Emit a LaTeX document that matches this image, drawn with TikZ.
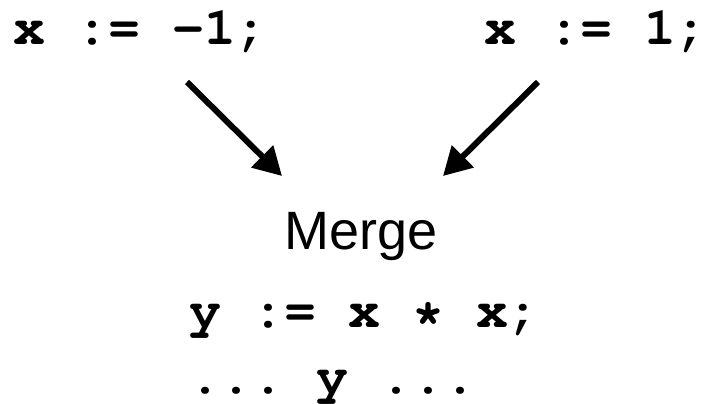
\documentclass[tikz,border=0pt]{standalone}
\usepackage{fontspec}
\usetikzlibrary{arrows.meta}
\newfontfamily\mergefont{Liberation Sans}
\newcommand\codefont{\frenchspacing\fontencoding{T1}\fontfamily{pcr}\fontseries{b}\fontshape{n}\fontsize{53.3}{60}\selectfont}
\tikzset{
  code/.style={inner sep=0pt, outer sep=0pt, anchor=base west, font=\codefont},
  label/.style={inner sep=0pt, outer sep=0pt, anchor=base, font=\mergefont\fontsize{54}{60}\selectfont},
  arr/.style={line width=6pt, -{Triangle[length=28pt,width=30pt]}}
}
\begin{document}
\begin{tikzpicture}[x=1pt,y=-1pt]
\useasboundingbox (0,0) rectangle (707,404);
\node[code] (left) at (13,44.5) {x := -1;};
\node[code] (right) at (484.5,44.5) {x := 1;};
\node[label] (merge) at (361.5,249) {Merge};
\node[code] (assign) at (189,327) {y := x * x;};
\node[code] (use) at (189,393) {... y ...};
\coordinate (s1) at (187,82);
\coordinate (t1) at (282,176);
\coordinate (s2) at (538,82);
\coordinate (t2) at (443,176);
\draw[arr] (s1) -- (t1);
\draw[arr] (s2) -- (t2);
\end{tikzpicture}
\end{document}
